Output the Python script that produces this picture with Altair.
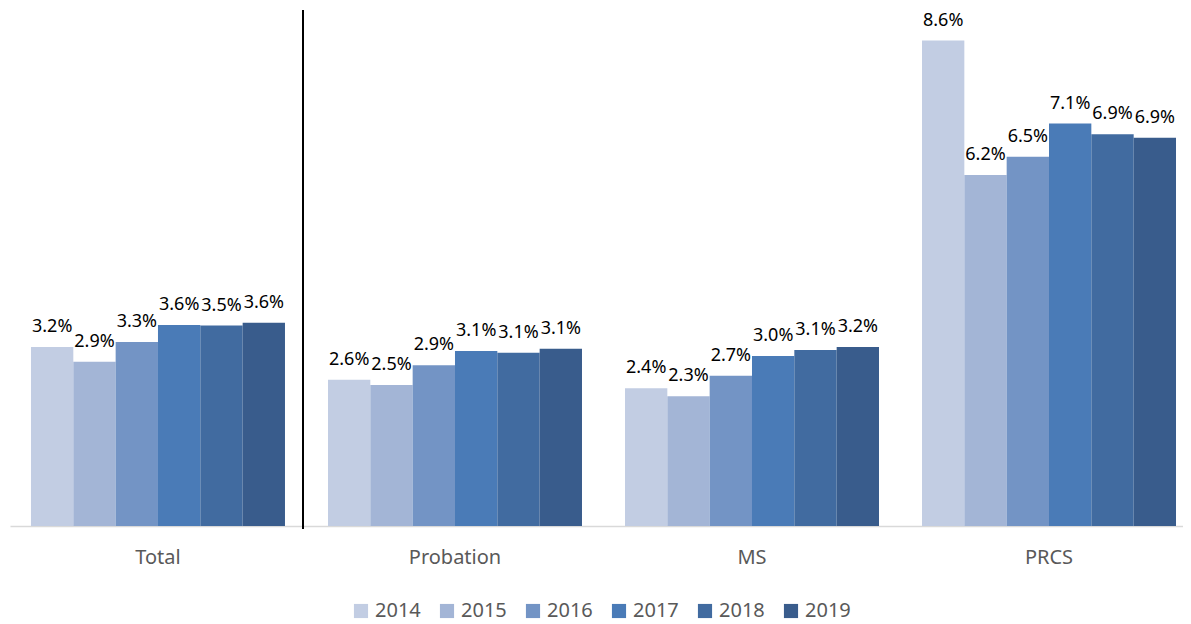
import altair as alt
import pandas as pd

categories = ["Total", "Probation", "MS", "PRCS"]
years = ["2014", "2015", "2016", "2017", "2018", "2019"]
colors = ["#C2CDE3", "#A3B5D6", "#7394C5", "#4A7BB7", "#416BA0", "#395C8C"]

total = [3.17, 2.91, 3.26, 3.56, 3.55, 3.60]
probation = [2.59, 2.50, 2.85, 3.10, 3.07, 3.14]
ms = [2.44, 2.30, 2.66, 3.01, 3.12, 3.17]
prcs = [8.60, 6.22, 6.54, 7.13, 6.94, 6.88]

series = {"Total": total, "Probation": probation, "MS": ms, "PRCS": prcs}
rows = []
for cat in categories:
    for yr, v in zip(years, series[cat]):
        rows.append({"category": cat, "year": yr, "value": v})
df = pd.DataFrame(rows)

FONT = "Noto Sans"

x_enc = alt.X(
    "category:N",
    sort=categories,
    scale=alt.Scale(paddingInner=0.1448, paddingOuter=0.0471, align=0.75),
    axis=alt.Axis(
        title=None,
        labelAngle=0,
        labelFontSize=20,
        labelFont=FONT,
        labelColor="#595959",
        labelPadding=21,
        ticks=False,
        domainColor="#D9D9D9",
        domainWidth=1.5,
        grid=False,
    ),
)
xoff = alt.XOffset("year:N", sort=years, scale=alt.Scale(paddingInner=0, paddingOuter=0))
y_enc = alt.Y("value:Q", scale=alt.Scale(domain=[0, 9], nice=False, zero=True), axis=None)

base = alt.Chart(df)

bars = base.mark_bar().encode(
    x=x_enc,
    xOffset=xoff,
    y=y_enc,
    color=alt.Color(
        "year:N",
        sort=years,
        scale=alt.Scale(domain=years, range=colors),
        legend=alt.Legend(
            title=None,
            orient="none",
            legendX=341,
            legendY=583,
            direction="horizontal",
            symbolType="square",
            symbolSize=200,
            symbolStrokeWidth=0,
            labelFontSize=20,
            labelFont=FONT,
            labelColor="#595959",
            columnPadding=16,
            symbolOffset=0,
        ),
    ),
)

labels = base.transform_calculate(
    label="format(datum.value, '.1f') + '%'"
).mark_text(
    baseline="alphabetic", dy=-15, fontSize=18, font=FONT, color="#000000"
).encode(
    x=x_enc,
    xOffset=xoff,
    y=y_enc,
    text="label:N",
)

divider = base.mark_rule(color="#000000", strokeWidth=2).encode(
    x=alt.value(293), y=alt.value(-8), y2=alt.value(511)
)

chart = alt.layer(bars, labels, divider).properties(
    width=1173,
    height=508,
    autosize=alt.AutoSizeParams(type="none"),
    padding={"left": 2, "top": 10, "right": 0, "bottom": 98},
).configure_view(stroke=None)

chart.save("out.html", embed_options={"renderer": "svg", "actions": False})
